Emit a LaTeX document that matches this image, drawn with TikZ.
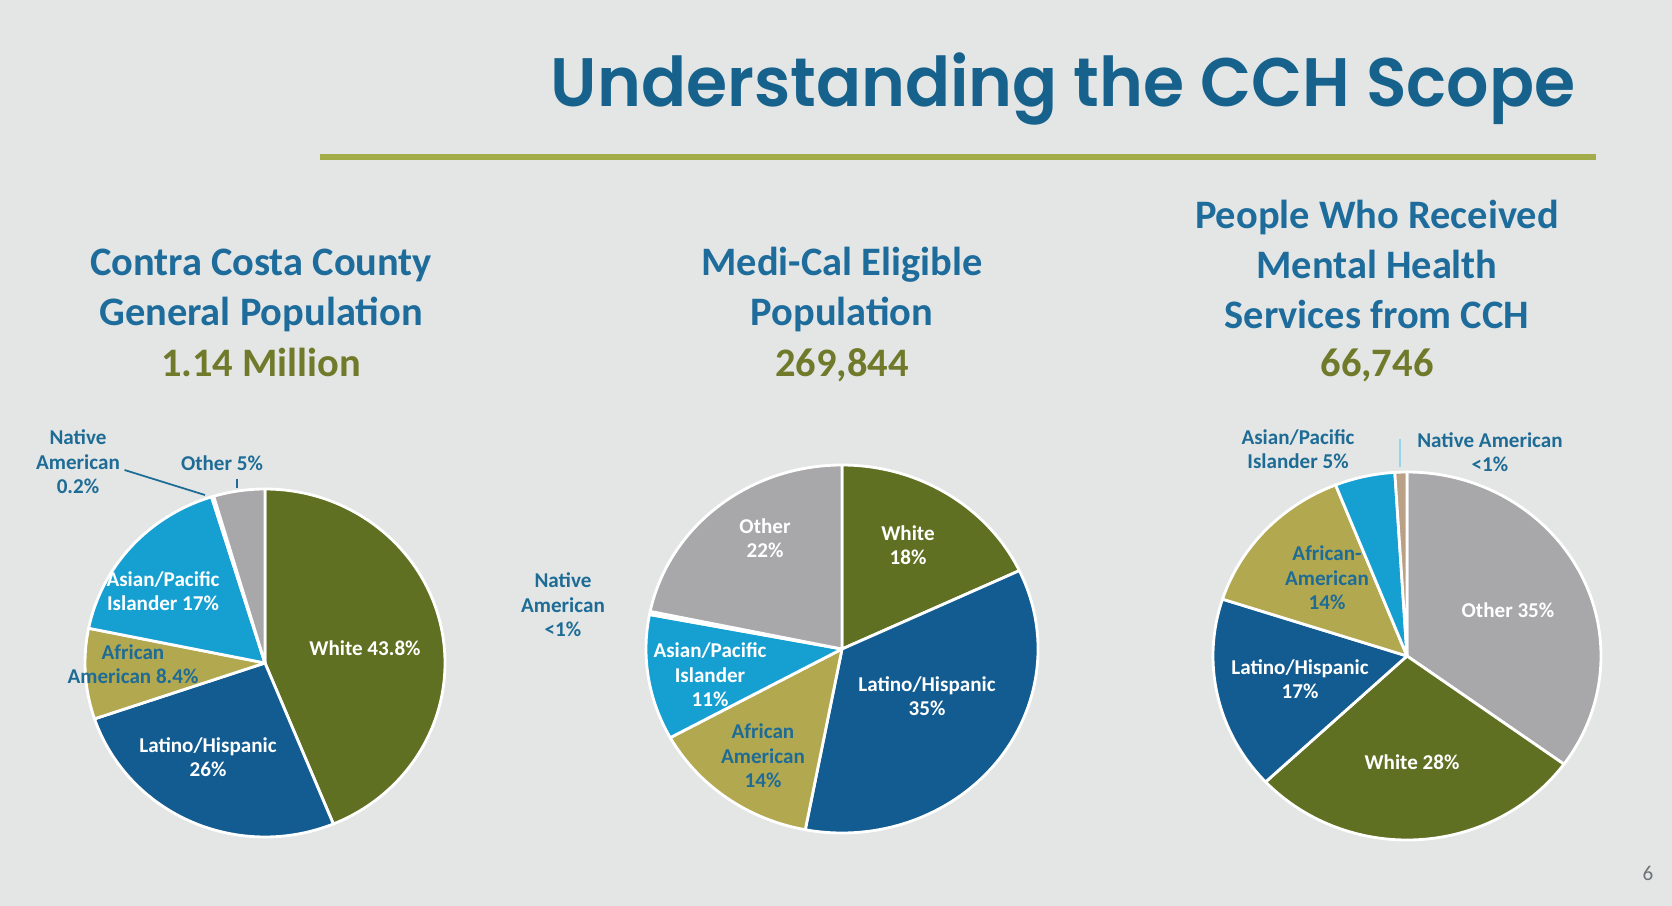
\documentclass[tikz,border=0pt]{standalone}
\usepackage{fontspec}
\setmainfont{Carlito}
\newfontfamily\titleFont{Poppins}[BoldFont={Poppins SemiBold}]
\usepackage{tikz}
\tikzstyle{slide} = [x = .01cm, y = -.01cm]
\definecolor{slideBack}{RGB}{227,230,229}
\definecolor{titleColor}{RGB}{22,98,140}
\definecolor{headColor}{RGB}{30,108,155}
\definecolor{countColor}{RGB}{112,122,42}
\definecolor{ruleColor}{RGB}{162,172,72}
\definecolor{labelColor}{RGB}{30,108,150}
\definecolor{pageColor}{RGB}{110,115,120}
\definecolor{whiteGroup}{RGB}{96,112,34}
\definecolor{latinoGroup}{RGB}{18,92,145}
\definecolor{asianGroup}{RGB}{22,160,210}
\definecolor{africanGroup}{RGB}{178,168,80}
\definecolor{otherGroup}{RGB}{168,168,170}
\definecolor{nativeGroup}{RGB}{186,160,132}
\tikzstyle{sliceStyle} = [draw=white, line width=.8pt, line join=round]
\tikzstyle{titleText} = [font=\titleFont\fontsize{19.5}{23}\selectfont\bfseries, text=titleColor, anchor=base, inner sep=0pt]
\tikzstyle{headText} = [font=\fontsize{11.5}{14}\selectfont\bfseries, text=headColor, anchor=base, inner sep=0pt]
\tikzstyle{countText} = [headText, text=countColor]
\tikzstyle{sliceText} = [font=\fontsize{6}{7}\selectfont\bfseries, align=center, inner sep=0pt]
\tikzstyle{insideText} = [sliceText, text=white]
\tikzstyle{outsideText} = [sliceText, text=labelColor]
\tikzstyle{leaderLine} = [draw=labelColor, line width=.5pt]
\tikzstyle{pageText} = [font=\fontsize{6}{7}\selectfont, text=pageColor, inner sep=0pt]
\newcommand{\pieSlice}[6]{\filldraw [sliceStyle, fill=#6] (#1) -- ++(#4:#2 and #3) arc [start angle = #4, end angle = #5, x radius = #2, y radius = #3] -- cycle;}
\newcommand{\pieChart}[4]{
  \foreach \startAngle/\endAngle/\groupColor in {#4} {
    \pieSlice{#1}{#2}{#3}{\startAngle}{\endAngle}{\groupColor}
  }
}

\begin{document}
\begin{tikzpicture}[slide]
  \useasboundingbox (0,0) rectangle (1672,906);
  \fill [slideBack] (0,0) rectangle (1672,906);

  \node [titleText] (slideTitle) at (1063,106) {\scalebox{.97}[1]{Understanding the CCH Scope}};
  \draw [ruleColor, line width=1.5pt] (320,157) -- (1596,157);

  \foreach \headLine [count=\lineNo] in {Contra Costa County, General Population} {
    \node [headText] (countyHead\lineNo) at (261, 225 + 50*\lineNo) {\headLine};
  }
  \node [countText] (countyCount) at (261,376) {1.14 Million};
  \foreach \headLine [count=\lineNo] in {Medi-Cal Eligible, Population} {
    \node [headText] (mediHead\lineNo) at (842, 225 + 50*\lineNo) {\headLine};
  }
  \node [countText] (mediCount) at (842,376) {269,844};
  \foreach \headLine [count=\lineNo] in {People Who Received, Mental Health, Services from CCH} {
    \node [headText] (careHead\lineNo) at (1377, 178 + 50*\lineNo) {\headLine};
  }
  \node [countText] (careCount) at (1377,376) {66,746};

  \coordinate (countyPie) at (265,663);
  \coordinate (mediPie) at (842,649);
  \coordinate (carePie) at (1407,656);

  \pieChart{countyPie}{180}{174}{-90/67.68/whiteGroup, 67.68/161.28/latinoGroup, 161.28/191.52/africanGroup, 191.52/252.72/asianGroup, 252.72/253.44/nativeGroup, 253.44/270/otherGroup}
  \pieChart{mediPie}{196}{184}{-90/-25.2/whiteGroup, -25.2/100.8/latinoGroup, 100.8/151.2/africanGroup, 151.2/190.8/asianGroup, 190.8/191.8/white, 191.8/270/otherGroup}
  \pieChart{carePie}{194}{184}{-90/36/otherGroup, 36/136.8/whiteGroup, 136.8/198/latinoGroup, 198/248.4/africanGroup, 248.4/266.4/asianGroup, 266.4/270/nativeGroup}

  \node [insideText] (countyWhite) at (365,648) {White 43.8\%};
  \node [insideText] (countyLatino) at (208,757) {Latino/Hispanic\\26\%};
  \node [outsideText] (countyAfrican) at (133,664) {African\\American 8.4\%};
  \node [insideText] (countyAsian) at (163,591) {Asian/Pacific\\Islander 17\%};
  \node [outsideText] (countyNative) at (78,462) {Native\\American\\0.2\%};
  \node [outsideText] (countyOther) at (222,463) {Other 5\%};
  \coordinate (countyNativeTip) at (205,495);
  \coordinate (countyOtherTip) at (237,488);
  \draw [leaderLine] ([shift={(4,8)}]countyNative.east) -- (countyNativeTip);
  \draw [leaderLine] (countyOtherTip) -- ++(0,-9);

  \node [outsideText] (mediNative) at (563,605) {Native\\American\\<1\%};
  \node [insideText] (mediOther) at (765,538) {Other\\22\%};
  \node [insideText] (mediWhite) at (908,545) {White\\18\%};
  \node [insideText] (mediLatino) at (927,696) {Latino/Hispanic\\35\%};
  \node [insideText] (mediAsian) at (710,675) {Asian/Pacific\\Islander\\11\%};
  \node [outsideText] (mediAfrican) at (763,756) {African\\American\\14\%};

  \node [outsideText] (careAsian) at (1298,449) {Asian/Pacific\\Islander 5\%};
  \node [outsideText] (careNative) at (1490,452) {Native American\\<1\%};
  \node [outsideText] (careAfrican) at (1327,578) {African-\\American\\14\%};
  \node [insideText] (careOther) at (1508,610) {Other 35\%};
  \node [insideText] (careLatino) at (1300,679) {Latino/Hispanic\\17\%};
  \node [insideText] (careWhite) at (1412,762) {White 28\%};
  \coordinate (careNativeTip) at (1400,467);
  \draw [leaderLine, draw=asianGroup!45] (careNativeTip) -- ++(0,-28);

  \node [pageText] (pageNumber) at (1648,873) {6};
\end{tikzpicture}
\end{document}
